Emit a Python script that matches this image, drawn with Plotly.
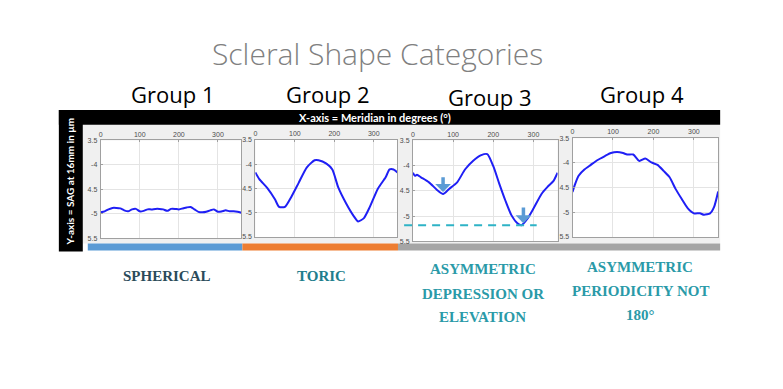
import plotly.graph_objects as go

W, H = 783, 389

# ---------------- data ----------------
meridian_10 = list(range(0, 361, 10))
group1_sag = [-4.97, -4.95, -4.91, -4.88, -4.88, -4.89, -4.93, -4.95, -4.91, -4.90,
              -4.95, -4.94, -4.91, -4.91, -4.90, -4.90, -4.91, -4.94, -4.90, -4.90,
              -4.91, -4.89, -4.87, -4.86, -4.91, -4.96, -4.97, -4.96, -4.93, -4.91,
              -4.96, -4.95, -4.93, -4.95, -4.95, -4.96, -4.98]

group2_deg = [0, 10, 30, 50, 60, 75, 90, 110, 130, 150, 160, 180, 195, 210, 230, 250,
              260, 275, 290, 310, 330, 340, 350, 360]
group2_sag = [-4.17, -4.31, -4.49, -4.73, -4.88, -4.88, -4.69, -4.38, -4.07, -3.92, -3.92,
              -3.99, -4.11, -4.48, -4.81, -5.08, -5.18, -5.11, -4.88, -4.51, -4.27, -4.11,
              -4.11, -4.17]

group3_deg = [0, 5, 10, 20, 40, 60, 75, 90, 110, 130, 150, 170, 185, 200, 215, 230, 245,
              260, 270, 285, 300, 320, 335, 350, 360]
group3_sag = [-4.14, -4.20, -4.18, -4.23, -4.33, -4.48, -4.56, -4.46, -4.33, -4.07, -3.90,
              -3.79, -3.77, -4.01, -4.36, -4.69, -4.98, -5.14, -5.18, -5.05, -4.85, -4.56,
              -4.42, -4.30, -4.14]

group4_deg = [0, 5, 15, 30, 45, 60, 80, 95, 110, 125, 135, 150, 165, 180, 195, 210, 225,
              240, 255, 270, 285, 300, 315, 325, 340, 350, 360]
group4_sag = [-4.59, -4.46, -4.26, -4.13, -4.04, -3.95, -3.86, -3.80, -3.78, -3.80, -3.83,
              -3.83, -3.96, -3.91, -3.99, -4.04, -4.16, -4.29, -4.53, -4.73, -4.92, -5.02,
              -5.02, -5.05, -5.02, -4.89, -4.58]

group_labels = ["Group 1", "Group 2", "Group 3", "Group 4"]
category_lines = [["SPHERICAL"], ["TORIC"],
                  ["ASYMMETRIC", "DEPRESSION OR", "ELEVATION"],
                  ["ASYMMETRIC", "PERIODICITY NOT", "180°"]]
x_ticks = [0, 100, 200, 300]
y_ticks = [-3.5, -4, -4.5, -5, -5.5]
y_ticktext = ["3.5", "-4", "4.5", "-5", "5.5"]

# group 3 markers
g3_arrow_x = [75, 275]
g3_arrow_tip = [-4.52, -5.14]
g3_arrow_tail = [-4.20, -4.80]
g3_dash_level = -5.18
g3_dash_x = [-22, 308]

# ---------------- layout helpers ----------------
def px(x):
    return x / W

def py(y):
    return 1 - y / H

panels_px = [  # (x0, x1, y_top, y_bottom)
    (99, 240, 139, 238.5),
    (254, 396.5, 138.3, 237.3),
    (412, 557, 139, 241.7),
    (572, 718, 136.7, 237.3),
]

series = [(meridian_10, group1_sag), (group2_deg, group2_sag),
          (group3_deg, group3_sag), (group4_deg, group4_sag)]

fig = go.Figure()
shapes = []
annotations = []

def rect(x0, x1, y0, y1, color):
    shapes.append(dict(type="rect", xref="paper", yref="paper", layer="below",
                       x0=px(x0), x1=px(x1), y0=py(y1), y1=py(y0),
                       fillcolor=color, line=dict(width=0)))

rect(81, 720, 123, 244, "#f0f0f0")
rect(57, 720, 108, 123, "#000000")
rect(57, 81, 108, 252, "#000000")
rect(86, 241, 244, 251, "#5b9bd5")
rect(241, 397, 244, 251, "#ed7d31")
rect(397, 720, 244, 251, "#a5a5a5")
for (x0, x1, yt, yb) in panels_px:
    rect(x0, x1, yt, yb, "#ffffff")

XR = [0, 360]
YR = [-5.5, -3.5]

for i, ((x0, x1, yt, yb), (xs, ys)) in enumerate(zip(panels_px, series)):
    n = "" if i == 0 else str(i + 1)
    fig.add_trace(go.Scatter(x=xs, y=ys, mode="lines", xaxis="x" + n, yaxis="y" + n,
                             line=dict(color="#1f1ff5", width=2, shape="spline", smoothing=0.6),
                             showlegend=False, hoverinfo="skip"))
    fig.update_layout(**{
        "xaxis" + n: dict(domain=[px(x0), px(x1)], range=XR, anchor="y" + n, side="top",
                          tickvals=x_ticks, tickfont=dict(size=7, color="#4d4d4d", family="Liberation Sans"),
                          showgrid=True, gridcolor="#e4e4e4", gridwidth=1, zeroline=False,
                          showline=True, linecolor="#a0a0a0", linewidth=1, mirror=True,
                          ticks="inside", ticklen=2, tickcolor="#a0a0a0", fixedrange=True),
        "yaxis" + n: dict(domain=[py(yb), py(yt)], range=YR, anchor="x" + n,
                          tickvals=y_ticks, ticktext=y_ticktext,
                          tickfont=dict(size=7, color="#4d4d4d", family="Liberation Sans"),
                          showgrid=True, gridcolor="#e4e4e4", gridwidth=1, zeroline=False,
                          showline=True, linecolor="#a0a0a0", linewidth=1, mirror=True,
                          ticks="inside", ticklen=2, tickcolor="#a0a0a0", ticklabelstandoff=1,
                          fixedrange=True),
    })

# group 3 dashed level line (converted to paper coords so it can extend past axes)
x0, x1, yt, yb = panels_px[2]
def g3x(v):
    return px(x0 + (v - XR[0]) / (XR[1] - XR[0]) * (x1 - x0))
def g3y(v):
    return py(yb - (v - YR[0]) / (YR[1] - YR[0]) * (yb - yt))
shapes.append(dict(type="line", xref="paper", yref="paper",
                   x0=g3x(g3_dash_x[0]), x1=g3x(g3_dash_x[1]),
                   y0=g3y(g3_dash_level), y1=g3y(g3_dash_level),
                   line=dict(color="#2eb3c6", width=2, dash="8px,6px")))

for ax_, tip, tail in zip(g3_arrow_x, g3_arrow_tip, g3_arrow_tail):
    annotations.append(dict(x=ax_, y=tip, ax=ax_, ay=tail, xref="x3", yref="y3",
                            axref="x3", ayref="y3", text="", showarrow=True,
                            arrowhead=1, arrowsize=0.75, arrowwidth=3.5, arrowcolor="#5b9bd5",
                            standoff=0))

# texts
annotations.append(dict(text="Scleral Shape Categories", x=px(376), y=py(50), xref="paper", yref="paper",
                        showarrow=False, xanchor="center", yanchor="middle",
                        font=dict(family="Open Sans", size=30, color="#808080", weight=300)))

group_pos = [(170.5, 92), (326, 92), (488.5, 95), (642, 92)]
for lab, (gx, gy) in zip(group_labels, group_pos):
    annotations.append(dict(text=lab, x=px(gx), y=py(gy), xref="paper", yref="paper",
                            showarrow=False, xanchor="center", yanchor="middle",
                            font=dict(family="Open Sans", size=22, color="#000000")))

annotations.append(dict(text="<b>X-axis = Meridian in degrees (°)</b>", x=px(374), y=py(115.5),
                        xref="paper", yref="paper", showarrow=False, xanchor="center", yanchor="middle",
                        font=dict(family="Lato", size=11, color="#ffffff")))
annotations.append(dict(text="<b>Y-axis = SAG at 16mm in µm</b>", x=px(68), y=py(181),
                        xref="paper", yref="paper", showarrow=False, textangle=-90,
                        xanchor="center", yanchor="middle",
                        font=dict(family="Lato", size=10, color="#ffffff")))

cat_colors = ["#2b4b5a", "#217d8c", "#2a9aa8", "#2a9aa8"]
cat_pos = [(165, [277]), (320, [277]), (482, [270, 295, 319]), (640, [268, 292, 317])]
for lines, col, (cx, ys) in zip(category_lines, cat_colors, cat_pos):
    for t, yy in zip(lines, ys):
        annotations.append(dict(text="<b>" + t + "</b>", x=px(cx), y=py(yy), xref="paper", yref="paper",
                                showarrow=False, xanchor="center", yanchor="middle",
                                font=dict(family="Liberation Serif", size=15, color=col)))

fig.update_layout(width=W, height=H, margin=dict(l=0, r=0, t=0, b=0),
                  paper_bgcolor="#ffffff", plot_bgcolor="#ffffff",
                  shapes=shapes, annotations=annotations, showlegend=False)

fig.write_html("out.html", config={"displayModeBar": False},
               post_script="document.body.style.margin='0';document.body.style.padding='0';")
